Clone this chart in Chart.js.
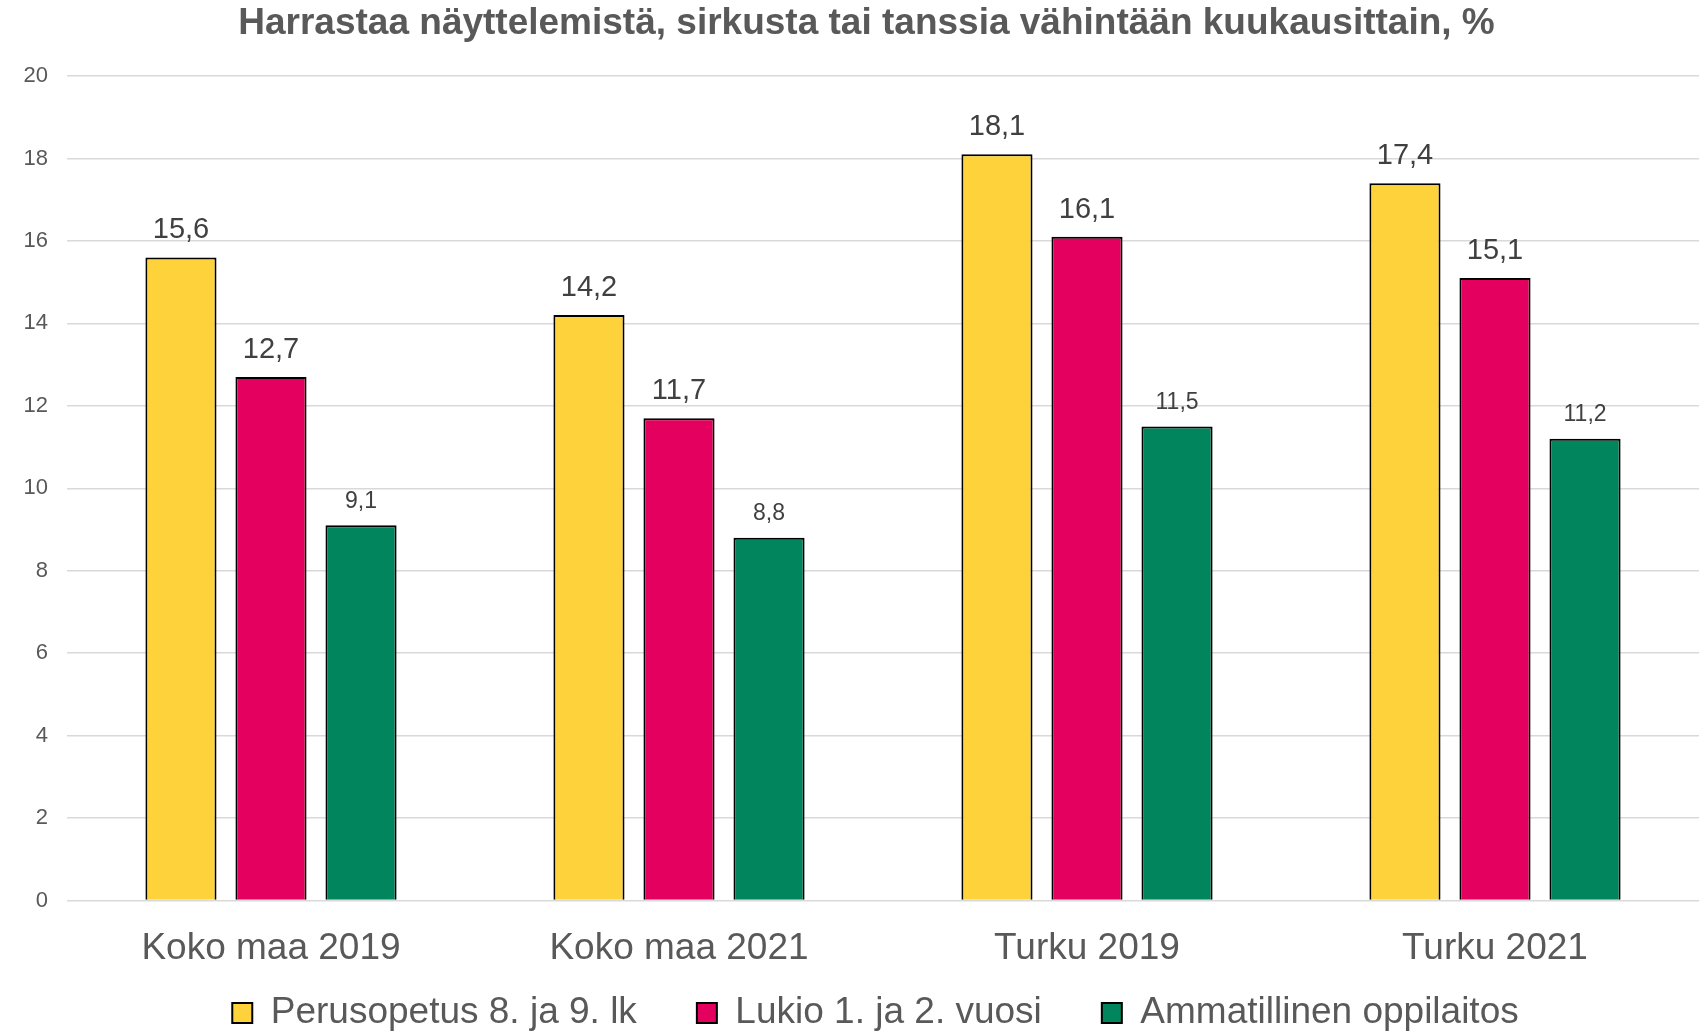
<!DOCTYPE html>
<html>
<head>
<meta charset="utf-8">
<script src="https://cdn.jsdelivr.net/npm/chart.js"></script>
<style>
  body { margin: 0; background: #fff; }
  #wrap { width: 1699px; height: 1033px; }
</style>
</head>
<body>
<div id="wrap"><canvas id="chart" width="1699" height="1033"></canvas></div>
<script>
// categories and values
var categories = ['Koko maa 2019', 'Koko maa 2021', 'Turku 2019', 'Turku 2021'];
var seriesNames = ['Perusopetus 8. ja 9. lk', 'Lukio 1. ja 2. vuosi', 'Ammatillinen oppilaitos'];
var perusopetus = [15.6, 14.2, 18.1, 17.4];
var lukio = [12.7, 11.7, 16.1, 15.1];
var ammatillinen = [9.1, 8.8, 11.5, 11.2];
var yTicks = [0, 2, 4, 6, 8, 10, 12, 14, 16, 18, 20];

var FONT = "'Liberation Sans', Arial, sans-serif";
var GREY = '#595959';

// value labels above the bars, drawn from the bar elements
var barLabels = {
    id: 'barLabels',
    afterDatasetsDraw: function (chart) {
        var ctx = chart.ctx;
        ctx.save();
        ctx.fillStyle = '#404040';
        ctx.textAlign = 'center';
        ctx.textBaseline = 'middle';
        chart.data.datasets.forEach(function (ds, i) {
            var small = i === 2;
            ctx.font = (small ? 23 : 29) + 'px ' + FONT;
            chart.getDatasetMeta(i).data.forEach(function (bar, j) {
                var txt = ds.data[j].toFixed(1).replace('.', ',');
                ctx.fillText(txt, bar.x, bar.y - (small ? 24 : 27));
            });
        });
        ctx.restore();
    }
};

// small nudges for title and legend
var nudge = {
    id: 'nudge',
    afterLayout: function (chart) {
        chart.titleBlock.left += 17;
        chart.titleBlock.right += 17;
        chart.legend.left += 26;
        chart.legend.right += 26;
        chart.legend.top -= 54.5;
        chart.legend.bottom -= 54.5;
    }
};

new Chart(document.getElementById('chart'), {
    type: 'bar',
    data: {
        labels: categories,
        datasets: [{
            label: seriesNames[0],
            data: perusopetus,
            backgroundColor: '#FDD23A'
        }, {
            label: seriesNames[1],
            data: lukio,
            backgroundColor: '#E4005E'
        }, {
            label: seriesNames[2],
            data: ammatillinen,
            backgroundColor: '#00855D'
        }]
    },
    options: {
        responsive: false,
        animation: false,
        layout: { padding: { top: 0, left: 0, right: 0, bottom: -62.9 } },
        datasets: {
            bar: {
                borderColor: '#000000',
                borderWidth: 2,
                borderSkipped: 'bottom',
                categoryPercentage: 0.662,
                barPercentage: 0.79
            }
        },
        plugins: {
            title: {
                display: true,
                text: 'Harrastaa näyttelemistä, sirkusta tai tanssia vähintään kuukausittain, %',
                color: GREY,
                font: { family: FONT, size: 37, weight: 'bold' },
                padding: { top: 2, bottom: 29.6 }
            },
            legend: {
                position: 'bottom',
                labels: {
                    color: GREY,
                    font: { family: FONT, size: 37 },
                    boxWidth: 20,
                    boxHeight: 20,
                    padding: 60
                }
            },
            tooltip: { enabled: false }
        },
        scales: {
            x: {
                grid: { display: false },
                border: { display: false },
                ticks: {
                    color: GREY,
                    font: { family: FONT, size: 37 },
                    padding: 18
                }
            },
            y: {
                min: 0,
                max: 20,
                border: { display: false },
                grid: { color: '#D9D9D9', lineWidth: 1.5, drawTicks: false },
                afterBuildTicks: function (scale) {
                    scale.ticks = yTicks.map(function (v) { return { value: v }; });
                },
                ticks: {
                    color: GREY,
                    font: { family: FONT, size: 22 },
                    padding: 19
                },
                afterFit: function (scale) { scale.width = 67; }
            }
        }
    },
    plugins: [barLabels, nudge]
});
</script>
</body>
</html>
